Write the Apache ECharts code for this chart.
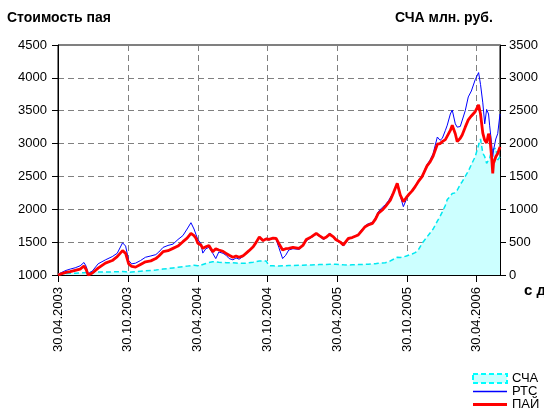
<!DOCTYPE html>
<html><head><meta charset="utf-8">
<script src="https://cdn.jsdelivr.net/npm/echarts@6/dist/echarts.min.js"></script>
<style>html,body{margin:0;padding:0;background:#fff}#c{width:544px;height:414px}</style>
</head><body><div id="c"></div>
<script>
const startDate = '2003-04-30';
const endDate = '2006-06-30';
const dates = ['2003-04-30','2003-05-10','2003-05-21','2003-06-01','2003-06-14','2003-06-27','2003-07-07','2003-07-13','2003-07-18','2003-07-29',
'2003-08-13','2003-09-01','2003-09-19','2003-10-02','2003-10-16','2003-10-24','2003-11-01','2003-11-09','2003-11-19','2003-12-02',
'2003-12-15','2003-12-29','2004-01-11','2004-01-19','2004-01-30','2004-02-12','2004-02-25','2004-03-09','2004-03-22','2004-04-02',
'2004-04-12','2004-04-20','2004-04-25','2004-04-30','2004-05-08','2004-05-13','2004-05-21','2004-05-29','2004-06-08','2004-06-16',
'2004-06-24','2004-07-05','2004-07-13','2004-07-21','2004-07-31','2004-08-08','2004-08-16','2004-08-26','2004-09-03','2004-09-11',
'2004-09-22','2004-09-30','2004-10-08','2004-10-18','2004-10-26','2004-11-02','2004-11-13','2004-11-21','2004-11-28','2004-12-08',
'2004-12-16','2004-12-24','2005-01-04','2005-01-20','2005-01-30','2005-02-08','2005-02-21','2005-03-06','2005-03-14','2005-03-25',
'2005-04-02','2005-04-10','2005-04-20','2005-04-26','2005-04-30','2005-05-08','2005-05-16','2005-05-29','2005-06-08','2005-06-24',
'2005-07-04','2005-07-12','2005-07-20','2005-07-31','2005-08-08','2005-08-15','2005-08-26','2005-09-03','2005-09-11','2005-09-16',
'2005-09-24','2005-10-04','2005-10-12','2005-10-20','2005-10-28','2005-11-02','2005-11-12','2005-11-20','2005-11-28','2005-12-08',
'2005-12-21','2005-12-29','2006-01-06','2006-01-17','2006-01-24','2006-01-30','2006-02-07','2006-02-12','2006-02-20','2006-02-25',
'2006-03-05','2006-03-10','2006-03-18','2006-03-23','2006-03-31','2006-04-08','2006-04-16','2006-04-26','2006-05-05','2006-05-10',
'2006-05-16','2006-05-21','2006-05-26','2006-05-31','2006-06-03','2006-06-08','2006-06-11','2006-06-13','2006-06-19','2006-06-24',
'2006-06-30'];
const pai = [1000,1020,1040,1050,1070,1090,1137,1080,1000,1030,
1105,1180,1220,1280,1370,1330,1170,1130,1120,1160,
1200,1215,1250,1290,1355,1370,1405,1440,1507,1560,
1634,1600,1560,1483,1457,1405,1430,1450,1355,1400,
1380,1360,1330,1300,1270,1290,1270,1290,1330,1370,
1430,1500,1577,1523,1550,1543,1560,1557,1480,1380,
1400,1405,1420,1405,1450,1540,1580,1634,1600,1557,
1580,1620,1580,1540,1530,1500,1457,1557,1570,1610,
1680,1735,1760,1785,1850,1935,1990,2040,2100,2140,
2250,2395,2217,2117,2180,2217,2280,2345,2420,2497,
2660,2720,2810,2990,3000,3030,3060,3080,3200,3280,
3150,3030,3080,3130,3250,3360,3420,3485,3590,3450,
3160,3050,3010,3150,3110,2800,2545,2700,2800,2850,
2950];
const rts = [1010,1040,1070,1090,1110,1140,1190,1130,1020,1060,
1170,1230,1280,1330,1490,1440,1220,1170,1180,1220,
1270,1290,1310,1350,1420,1450,1470,1540,1600,1700,
1796,1700,1620,1540,1480,1333,1400,1420,1330,1250,
1350,1330,1300,1250,1230,1260,1240,1280,1320,1360,
1420,1510,1560,1530,1560,1530,1570,1540,1420,1250,
1300,1380,1400,1390,1440,1520,1570,1620,1590,1540,
1570,1640,1570,1530,1520,1490,1440,1540,1570,1620,
1700,1750,1780,1800,1870,1960,2030,2070,2130,2160,
2260,2380,2200,2040,2150,2200,2290,2360,2430,2510,
2680,2750,2850,3100,3050,3080,3200,3280,3450,3510,
3300,3250,3260,3280,3500,3710,3800,3970,4080,3900,
3620,3300,3520,3450,3270,3000,2800,2900,3070,3150,
3450];
const scha = [20,22,24,26,28,30,35,38,40,42,
45,45,48,50,52,50,40,45,50,58,
65,70,76,82,90,98,108,118,128,135,
142,148,150,140,150,165,175,190,203,200,
195,190,188,187,185,182,178,178,180,188,
195,205,213,215,213,142,140,137,137,140,
142,145,146,148,150,152,154,156,158,160,
161,162,162,162,160,158,155,152,155,158,
160,162,165,168,172,178,184,187,200,215,
240,270,265,275,288,295,320,340,380,480,
580,640,700,820,890,960,1060,1150,1200,1240,
1250,1290,1380,1420,1500,1580,1680,1800,1980,2070,
1855,1800,1700,1720,1780,1900,1880,1900,1930,1750,
1800];
const leftMin = 1000, leftMax = 4500, rightMin = 0, rightMax = 3500, step = 500;

function ymd(d){return d.toISOString().slice(0,10);}
const cats = [];
for (let t = Date.parse(startDate+'T00:00:00Z'); t <= Date.parse(endDate+'T00:00:00Z'); t += 86400000) cats.push(ymd(new Date(t)));
const isTick = (i, v) => /-(04|10)-30$/.test(v);
const FONT = 'Liberation Sans, Arial, sans-serif';
const plain = v => String(v);

const chart = echarts.init(document.getElementById('c'), null, {renderer:'canvas'});
chart.setOption({
  animation:false,
  backgroundColor:'#fff',
  grid:{left:58,right:44,top:45,bottom:139,show:true,borderColor:'#000',borderWidth:1,backgroundColor:'transparent'},
  graphic:[
    {type:'text',left:7,top:11,style:{text:'Стоимость пая',font:'bold 14px '+FONT,fill:'#000'}},
    {type:'text',left:395,top:11,style:{text:'СЧА млн. руб.',font:'bold 14px '+FONT,fill:'#000'}},
    {type:'text',left:524,top:283,style:{text:'с д',font:'bold 15px '+FONT,fill:'#000'}}
  ],
  legend:{
    orient:'vertical',left:472,top:372,padding:0,itemWidth:34,itemHeight:9,itemGap:0,
    textStyle:{fontFamily:FONT,fontSize:13,color:'#000',lineHeight:13},
    selectedMode:false,
    data:[
      {name:'СЧА',icon:'rect',itemStyle:{color:'#ccffff',borderColor:'#00ffff',borderWidth:2,borderType:[5,3]}},
      {name:'РТС',icon:'path://M0,0H34V1.4H0Z',itemStyle:{color:'#0000ff'}},
      {name:'ПАЙ',icon:'path://M0,0H34V3H0Z',itemStyle:{color:'#ff0000'}}
    ]
  },
  xAxis:{
    type:'category',data:cats,boundaryGap:false,
    axisLine:{lineStyle:{color:'#000',width:1}},
    axisTick:{interval:isTick,length:7,lineStyle:{color:'#000'}},
    axisLabel:{interval:isTick,rotate:90,margin:12,fontFamily:FONT,fontSize:13,color:'#000',
      formatter:v=>v.slice(8,10)+'.'+v.slice(5,7)+'.'+v.slice(0,4)},
    splitLine:{show:true,interval:isTick,lineStyle:{color:'#808080',type:[6,4],width:1}}
  },
  yAxis:[
    {type:'value',min:leftMin,max:leftMax,interval:step,position:'left',
     axisLine:{show:true,lineStyle:{color:'#000'}},axisTick:{show:true,length:6,lineStyle:{color:'#000'}},
     axisLabel:{margin:11,fontFamily:FONT,fontSize:13,color:'#000',formatter:plain},
     splitLine:{show:true,lineStyle:{color:'#808080',type:[6,4],width:1}}},
    {type:'value',min:rightMin,max:rightMax,interval:step,position:'right',
     axisLine:{show:true,lineStyle:{color:'#000'}},axisTick:{show:true,length:6,lineStyle:{color:'#000'}},
     axisLabel:{margin:9,fontFamily:FONT,fontSize:13,color:'#000',formatter:plain},
     splitLine:{show:false}}
  ],
  series:[
    {name:'СЧА',type:'line',yAxisIndex:1,symbol:'none',data:dates.map((d,i)=>[d,scha[i]]),
     lineStyle:{color:'#00e8f0',width:1.5,type:[5,3]},areaStyle:{color:'#ccffff',opacity:1},itemStyle:{color:'#00ffff'}},
    {name:'РТС',type:'line',symbol:'none',data:dates.map((d,i)=>[d,rts[i]]),
     lineStyle:{color:'#0000ff',width:1},itemStyle:{color:'#0000ff'}},
    {name:'ПАЙ',type:'line',symbol:'none',data:dates.map((d,i)=>[d,pai[i]]),
     lineStyle:{color:'#ff0000',width:2.8},itemStyle:{color:'#ff0000'}}
  ]
});
</script></body></html>
